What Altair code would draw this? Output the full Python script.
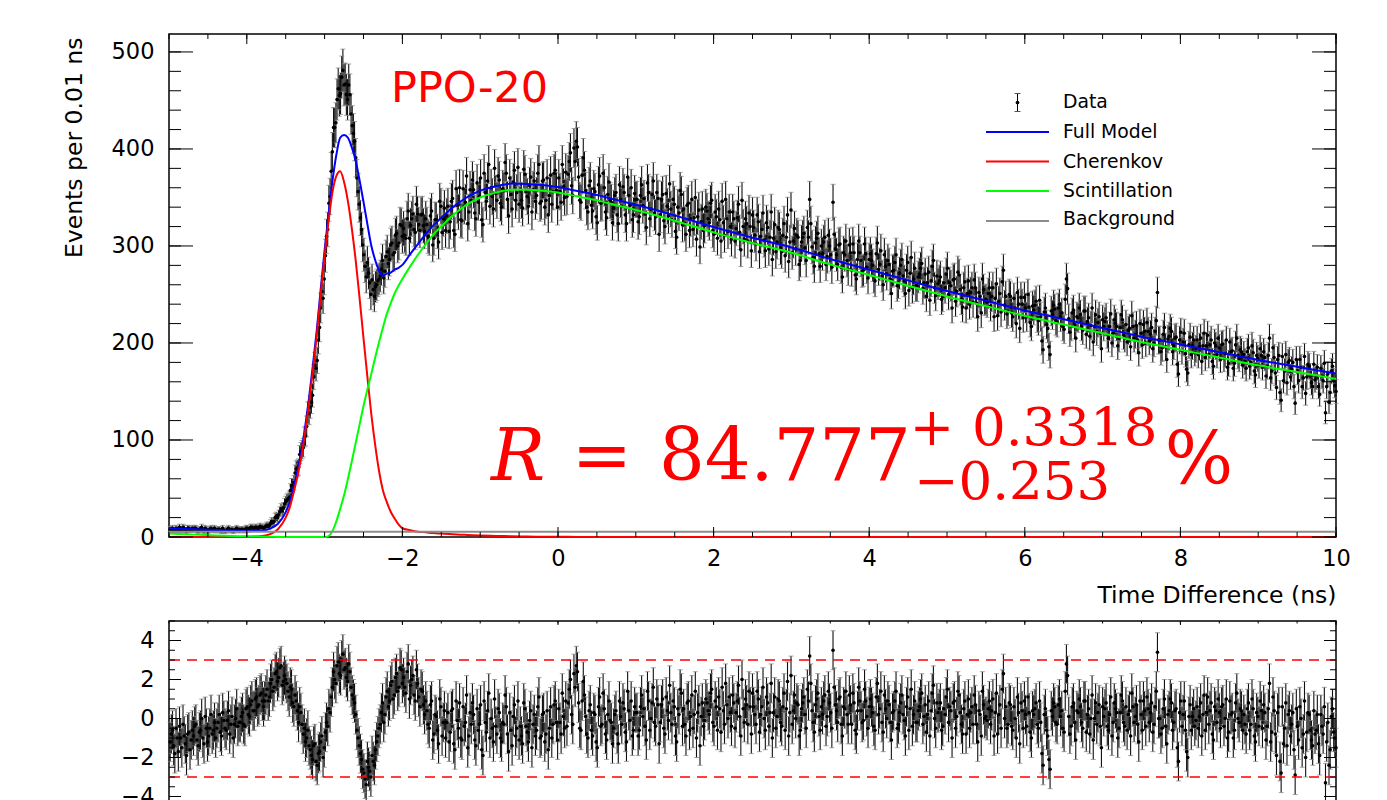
import altair as alt
import pandas as pd
import numpy as np

# ---------------- data ----------------
# two interleaved sets of display bins, 0.03 ns apart each, offset by 0.015 ns
BIN_START = -5.0      # ns
BIN_WIDTH = 0.03      # ns

counts_a = [
    8, 9, 7, 8, 10, 7, 9, 6, 9, 8,
    8, 9, 6, 8, 7, 9, 6, 8, 7, 9,
    7, 8, 6, 7, 7, 9, 7, 6, 8, 7,
    7, 8, 7, 9, 8, 10, 9, 10, 9, 10,
    9, 11, 11, 14, 15, 20, 20, 26, 27, 34,
    38, 41, 53, 56, 70, 72, 88, 92, 104, 128,
    134, 146, 177, 182, 216, 253, 266, 310, 344, 377,
    422, 427, 462, 457, 481, 467, 451, 456, 424, 408,
    370, 343, 317, 291, 268, 272, 250, 255, 258, 264,
    269, 285, 274, 294, 286, 303, 293, 313, 303, 321,
    318, 308, 336, 321, 333, 314, 333, 316, 333, 315,
    322, 308, 336, 308, 327, 304, 341, 328, 316, 341,
    325, 349, 312, 342, 360, 326, 341, 372, 335, 347,
    358, 328, 345, 370, 322, 355, 367, 341, 351, 380,
    347, 368, 340, 357, 375, 331, 353, 366, 347, 381,
    357, 339, 374, 351, 362, 335, 367, 352, 384, 346,
    368, 347, 332, 373, 356, 378, 340, 356, 384, 350,
    351, 387, 362, 401, 408, 371, 345, 391, 357, 335,
    367, 336, 356, 324, 372, 345, 360, 329, 366, 345,
    339, 355, 323, 348, 361, 332, 371, 342, 327, 354,
    348, 330, 363, 349, 319, 355, 338, 367, 330, 349,
    332, 353, 320, 341, 364, 327, 343, 309, 334, 353,
    338, 312, 344, 328, 317, 350, 330, 299, 338, 321,
    336, 324, 347, 312, 330, 338, 305, 324, 348, 315,
    320, 335, 305, 329, 314, 347, 307, 323, 334, 295,
    319, 302, 325, 310, 334, 295, 319, 309, 286, 322,
    304, 317, 294, 323, 309, 284, 337, 305, 297, 309,
    285, 309, 298, 319, 348, 299, 279, 308, 292, 300,
    304, 281, 311, 291, 345, 297, 281, 302, 268, 291,
    285, 301, 275, 293, 266, 305, 285, 275, 292, 267,
    292, 280, 264, 303, 281, 269, 291, 271, 281, 251,
    275, 291, 262, 280, 269, 251, 283, 272, 257, 277,
    259, 271, 282, 262, 248, 273, 264, 285, 249, 261,
    268, 248, 257, 277, 262, 236, 266, 253, 270, 245,
    257, 236, 264, 252, 242, 257, 227, 248, 266, 244,
    242, 257, 248, 227, 261, 243, 232, 275, 248, 233,
    248, 227, 236, 252, 215, 240, 247, 227, 237, 217,
    234, 243, 223, 227, 193, 236, 215, 188, 229, 235,
    221, 240, 231, 214, 266, 225, 217, 234, 205, 226,
    229, 213, 233, 222, 207, 236, 217, 212, 227, 194,
    217, 226, 205, 230, 210, 220, 197, 216, 224, 205,
    201, 215, 228, 205, 218, 190, 210, 219, 200, 212,
    209, 194, 212, 252, 203, 195, 216, 183, 207, 212,
    197, 206, 168, 211, 201, 189, 169, 206, 197, 190,
    203, 196, 181, 210, 197, 188, 203, 176, 197, 205,
    183, 199, 189, 175, 201, 192, 179, 205, 184, 191,
    188, 174, 195, 180, 190, 167, 184, 194, 175, 185,
    176, 205, 171, 185, 154, 187, 141, 161, 188, 180,
    165, 180, 138, 170, 183, 155, 186, 165, 176, 159,
    178, 165, 155, 174, 161, 128, 168, 149, 176, 156,
]

counts_b = [
    8, 7, 9, 7, 8, 10, 7, 9, 7, 9,
    9, 7, 8, 10, 6, 8, 7, 9, 8, 7,
    8, 7, 9, 6, 8, 7, 8, 7, 9, 8,
    8, 7, 9, 8, 10, 9, 10, 9, 11, 10,
    10, 12, 12, 16, 16, 21, 23, 29, 30, 36,
    39, 48, 53, 66, 71, 85, 90, 103, 114, 127,
    139, 165, 174, 203, 236, 246, 290, 317, 351, 397,
    422, 451, 455, 474, 466, 456, 466, 436, 416, 391,
    356, 329, 301, 279, 283, 262, 265, 248, 260, 266,
    276, 267, 289, 282, 301, 291, 311, 300, 322, 310,
    311, 328, 308, 328, 317, 343, 322, 332, 321, 328,
    310, 331, 301, 327, 315, 346, 314, 339, 331, 315,
    346, 316, 359, 335, 327, 359, 345, 323, 358, 368,
    334, 365, 351, 327, 375, 346, 384, 360, 338, 354,
    372, 344, 359, 386, 348, 370, 338, 378, 355, 343,
    347, 379, 356, 341, 371, 358, 346, 375, 344, 367,
    340, 370, 352, 343, 375, 357, 370, 345, 361, 376,
    374, 396, 352, 387, 402, 347, 373, 378, 340, 362,
    342, 359, 330, 363, 344, 375, 335, 353, 347, 324,
    352, 332, 363, 341, 355, 323, 352, 360, 332, 348,
    325, 352, 342, 333, 365, 328, 353, 334, 355, 312,
    348, 326, 354, 331, 338, 348, 315, 340, 357, 322,
    323, 342, 316, 348, 329, 307, 337, 325, 316, 340,
    328, 344, 316, 335, 308, 327, 346, 311, 328, 335,
    307, 328, 318, 343, 296, 320, 328, 305, 320, 332,
    311, 332, 294, 317, 306, 324, 297, 335, 308, 294,
    319, 298, 311, 290, 332, 304, 293, 318, 311, 281,
    304, 313, 285, 309, 323, 288, 303, 313, 279, 292,
    309, 289, 300, 278, 312, 291, 301, 278, 293, 305,
    276, 293, 302, 270, 286, 293, 274, 302, 278, 286,
    285, 268, 292, 276, 295, 260, 279, 285, 266, 274,
    283, 259, 272, 286, 264, 275, 254, 288, 266, 259,
    268, 277, 256, 271, 262, 244, 279, 257, 269, 264,
    245, 262, 271, 250, 259, 265, 243, 273, 255, 237,
    263, 251, 240, 257, 265, 241, 252, 231, 255, 245,
    251, 238, 257, 246, 228, 251, 263, 239, 230, 250,
    231, 246, 220, 240, 247, 226, 236, 250, 221, 238,
    239, 226, 244, 202, 232, 219, 196, 233, 239, 223,
    236, 227, 217, 245, 256, 211, 231, 219, 227, 236,
    217, 233, 209, 226, 218, 201, 229, 221, 210, 224,
    222, 209, 217, 200, 224, 217, 205, 229, 208, 219,
    213, 196, 217, 209, 203, 220, 198, 212, 221, 202,
    216, 200, 223, 203, 191, 209, 196, 204, 215, 191,
    205, 178, 203, 192, 210, 173, 198, 188, 203, 194,
    188, 205, 197, 185, 208, 198, 181, 200, 188, 195,
    198, 184, 203, 179, 191, 174, 198, 187, 193, 177,
    181, 191, 176, 197, 171, 187, 177, 187, 191, 166,
    187, 164, 195, 169, 183, 149, 186, 171, 159, 182,
    173, 155, 183, 161, 175, 164, 148, 178, 166, 155,
    162, 175, 147, 166, 179, 155, 139, 171, 161, 150,
]

residuals_a = [
    -1.2, -0.6, -1.8, -1.0, -0.4, -1.5, -0.9, -1.9, -0.7, -1.1,
    -0.9, -0.3, -1.4, -0.6, -1.0, 0.1, -1.2, -0.5, -0.8, -0.2,
    -0.5, 0.2, -0.9, -0.1, -0.6, 0.4, -0.3, -1.0, 0.0, -0.4,
    -0.2, 0.3, -0.4, 0.6, 0.1, 0.9, 0.4, 1.1, 0.7, 1.3,
    0.6, 1.2, 0.9, 1.8, 1.4, 2.3, 1.9, 2.6, 1.7, 2.2,
    1.8, 1.1, 1.5, 0.6, 0.9, -0.2, 0.3, -0.8, -1.2, -0.6,
    -1.6, -2.1, -1.3, -2.4, -1.7, -0.9, -1.5, -0.2, 0.5, 1.1,
    2.4, 1.8, 2.9, 2.2, 3.3, 2.6, 1.9, 2.4, 1.2, 0.8,
    -0.6, -1.4, -2.1, -2.8, -3.4, -2.5, -3.0, -2.2, -1.6, -0.9,
    -0.3, 0.8, 0.2, 1.4, 0.9, 1.9, 1.2, 2.3, 1.6, 2.5,
    2.1, 1.3, 2.8, 1.7, 2.2, 0.9, 1.8, 0.6, 1.4, 0.2,
    0.4, -0.5, 0.9, -0.8, 0.1, -1.3, 0.6, -0.2, -1.0, 0.3,
    -0.7, 0.5, -1.6, -0.1, 0.8, -1.1, -0.4, 1.2, -0.9, -0.3,
    0.2, -1.4, -0.6, 0.7, -1.9, -0.2, 0.4, -1.0, -0.5, 1.0,
    -0.8, 0.3, -1.2, -0.3, 0.6, -1.7, -0.6, 0.1, -0.9, 0.9,
    -0.4, -1.3, 0.5, -0.7, -0.1, -1.5, 0.2, -0.6, 1.1, -0.9,
    0.3, -0.8, -1.6, 0.6, -0.3, 0.9, -1.1, -0.2, 1.3, -0.5,
    -0.4, 1.5, 0.2, 2.3, 2.7, 0.8, -0.6, 1.9, 0.1, -1.0,
    0.7, -0.9, 0.2, -1.5, 1.1, -0.3, 0.5, -1.1, 0.9, -0.2,
    -0.5, 0.4, -1.3, 0.1, 0.8, -0.7, 1.4, -0.1, -0.9, 0.6,
    0.3, -0.6, 1.2, 0.5, -1.1, 0.9, 0.0, 1.6, -0.4, 0.7,
    -0.2, 1.0, -0.8, 0.4, 1.7, -0.3, 0.6, -1.2, 0.2, 1.3,
    0.5, -0.9, 0.9, 0.1, -0.5, 1.4, 0.3, -1.4, 0.8, -0.1,
    0.8, 0.2, 1.5, -0.4, 0.6, 1.1, -0.7, 0.4, 1.8, 0.0,
    0.3, 1.2, -0.5, 0.9, 0.1, 2.0, -0.2, 0.7, 1.4, -0.8,
    0.6, -0.3, 1.0, 0.2, 1.6, -0.6, 0.8, 0.3, -1.0, 1.1,
    0.1, 0.9, -0.4, 1.3, 0.5, -0.9, 2.2, 0.4, 0.0, 0.7,
    -0.6, 0.8, 0.2, 1.5, 3.2, 0.4, -0.7, 1.0, 0.1, 0.6,
    0.9, -0.4, 1.4, 0.3, 3.5, 0.7, -0.2, 1.1, -0.9, 0.5,
    0.2, 1.2, -0.3, 0.8, -0.8, 1.6, 0.4, -0.1, 0.9, -0.5,
    1.0, 0.3, -0.6, 1.8, 0.5, -0.2, 1.2, 0.0, 0.7, -1.1,
    0.4, 1.4, -0.3, 0.8, 0.2, -0.9, 1.1, 0.5, -0.4, 0.9,
    -0.2, 0.6, 1.3, 0.1, -0.7, 0.9, 0.4, 1.7, -0.5, 0.3,
    0.8, -0.4, 0.2, 1.5, 0.6, -1.0, 0.9, 0.1, 1.2, -0.3,
    0.5, -0.8, 1.0, 0.3, -0.3, 0.7, -1.2, 0.2, 1.4, 0.0,
    -0.1, 0.9, 0.4, -0.9, 1.3, 0.2, -0.5, 2.3, 0.6, -0.3,
    0.7, -0.6, 0.0, 1.1, -1.3, 0.4, 0.9, -0.4, 0.3, -1.0,
    0.2, 0.8, -0.5, -0.2, -2.4, 0.5, -0.9, -2.6, 0.1, 0.6,
    -0.3, 1.0, 0.4, -0.7, 2.8, 0.1, -0.4, 0.8, -1.1, 0.3,
    0.6, -0.5, 0.9, 0.2, -0.8, 1.2, 0.0, -0.3, 0.7, -1.5,
    0.1, 0.8, -0.6, 1.1, -0.2, 0.5, -1.0, 0.3, 0.9, -0.4,
    -0.6, 0.4, 1.3, -0.2, 0.7, -1.2, 0.2, 0.9, -0.4, 0.5,
    0.3, -0.7, 0.6, 3.4, 0.0, -0.5, 1.0, -1.3, 0.4, 0.8,
    -0.2, 0.5, -2.2, 0.9, 0.2, -0.6, -2.0, 0.7, 0.1, -0.4,
    0.6, 0.1, -0.9, 1.2, 0.3, -0.3, 0.8, -1.1, 0.4, 1.0,
    -0.5, 0.7, 0.0, -1.0, 0.9, 0.3, -0.6, 1.3, -0.2, 0.4,
    0.2, -0.8, 0.8, -0.3, 0.5, -1.2, 0.1, 0.9, -0.5, 0.3,
    -0.4, 1.8, -0.7, 0.4, -1.9, 0.6, -2.8, -1.3, 0.8, 0.2,
    -0.9, 0.3, -2.9, -0.4, 0.6, -1.5, 0.9, -0.7, 0.2, -1.1,
    0.4, -0.6, -1.3, 0.2, -0.8, -3.3, -0.2, -1.6, 0.5, -1.0,
]

residuals_b = [
    -0.8, -1.4, -0.5, -1.7, -1.0, -0.3, -1.3, -0.8, -1.6, -0.6,
    -0.4, -1.1, -0.7, 0.0, -1.3, -0.5, -0.9, 0.2, -0.6, -1.0,
    -0.2, -0.7, 0.3, -0.5, -0.1, -0.8, 0.1, -0.3, 0.5, -0.2,
    0.1, -0.3, 0.5, 0.2, 0.7, 0.4, 1.0, 0.6, 1.2, 0.9,
    0.9, 1.5, 1.1, 2.0, 1.6, 2.4, 2.1, 2.7, 1.9, 2.0,
    1.4, 1.6, 0.8, 1.2, 0.4, 0.6, -0.3, -0.5, -1.0, -1.4,
    -1.9, -1.4, -2.2, -1.8, -1.2, -2.0, -0.7, -0.4, 0.3, 1.6,
    2.0, 2.7, 2.3, 3.0, 2.5, 2.1, 2.8, 1.6, 1.0, 0.2,
    -1.0, -1.8, -2.6, -3.1, -2.2, -2.7, -1.9, -2.4, -1.2, -0.5,
    0.3, -0.2, 1.1, 0.6, 1.7, 1.0, 2.1, 1.4, 2.6, 1.8,
    1.6, 2.4, 1.0, 2.0, 1.2, 2.5, 1.1, 1.5, 0.7, 0.9,
    -0.3, 0.7, -1.1, 0.2, -0.6, 1.0, -0.9, 0.4, -0.2, -1.2,
    0.4, -1.3, 0.9, -0.5, -1.0, 0.6, -0.2, -1.5, 0.3, 0.8,
    -1.1, 0.5, -0.3, -1.6, 0.9, -0.7, 1.3, 0.0, -1.2, -0.4,
    0.5, -1.0, -0.2, 1.2, -0.8, 0.3, -1.4, 0.7, -0.5, -1.1,
    -0.9, 0.8, -0.4, -1.2, 0.4, -0.3, -0.9, 0.6, -1.0, 0.2,
    -1.2, 0.4, -0.5, -1.0, 0.7, -0.2, 0.5, -0.8, 0.1, 0.9,
    0.8, 2.0, -0.3, 1.6, 2.4, -0.5, 0.9, 1.2, -0.8, 0.4,
    -0.6, 0.3, -1.2, 0.6, -0.4, 1.3, -0.8, 0.2, -0.1, -1.3,
    0.2, -0.8, 0.9, -0.3, 0.5, -1.2, 0.4, 0.9, -0.6, 0.3,
    -0.9, 0.6, 0.1, -0.4, 1.4, -0.6, 0.8, -0.2, 1.0, -1.3,
    0.7, -0.5, 1.1, -0.1, 0.3, 0.9, -0.9, 0.5, 1.5, -0.4,
    -0.3, 0.8, -0.6, 1.2, 0.2, -1.0, 0.7, 0.1, -0.4, 1.0,
    0.4, 1.3, -0.2, 0.9, -0.6, 0.5, 1.6, -0.3, 0.7, 1.1,
    -0.4, 0.8, 0.3, 1.7, -0.9, 0.5, 1.0, -0.3, 0.6, 1.3,
    0.2, 1.4, -0.7, 0.6, 0.0, 1.1, -0.4, 1.8, 0.3, -0.5,
    1.0, -0.2, 0.6, -0.6, 1.9, 0.3, -0.3, 1.2, 0.8, -0.9,
    0.5, 1.1, -0.5, 0.9, 1.8, -0.2, 0.7, 1.3, -0.6, 0.2,
    1.2, 0.1, 0.8, -0.5, 1.6, 0.4, 1.0, -0.3, 0.6, 1.4,
    -0.3, 0.7, 1.3, -0.6, 0.4, 0.9, -0.2, 1.5, 0.1, 0.6,
    0.6, -0.4, 1.1, 0.2, 1.4, -0.7, 0.5, 0.9, -0.2, 0.3,
    0.9, -0.5, 0.3, 1.2, -0.1, 0.6, -0.6, 1.5, 0.2, -0.2,
    0.4, 1.0, -0.3, 0.7, 0.2, -0.9, 1.3, 0.0, 0.8, 0.5,
    -0.6, 0.5, 1.1, -0.2, 0.4, 0.8, -0.5, 1.4, 0.3, -0.8,
    0.9, 0.2, -0.5, 0.6, 1.2, -0.3, 0.4, -0.9, 0.7, 0.1,
    0.5, -0.3, 1.0, 0.3, -0.8, 0.7, 1.5, 0.0, -0.5, 0.8,
    -0.4, 0.6, -1.0, 0.3, 0.8, -0.5, 0.2, 1.1, -0.7, 0.4,
    0.5, -0.3, 0.9, -1.8, 0.2, -0.6, -2.1, 0.4, 0.8, -0.2,
    0.7, 0.1, -0.5, 1.4, 2.2, -0.8, 0.6, -0.2, 0.4, 1.0,
    -0.2, 0.9, -0.7, 0.5, 0.0, -1.1, 0.8, 0.3, -0.4, 0.6,
    0.5, -0.4, 0.2, -0.9, 0.8, 0.3, -0.5, 1.2, -0.2, 0.6,
    0.2, -0.9, 0.6, 0.1, -0.3, 0.9, -0.6, 0.4, 1.1, -0.2,
    0.8, -0.3, 1.4, 0.0, -0.8, 0.5, -0.4, 0.2, 1.0, -0.6,
    0.4, -1.5, 0.3, -0.4, 0.9, -1.7, 0.1, -0.6, 0.5, -0.1,
    -0.5, 0.8, 0.2, -0.6, 1.1, 0.4, -0.8, 0.6, -0.2, 0.3,
    0.6, -0.4, 1.0, -0.7, 0.2, -1.0, 0.8, 0.0, 0.5, -0.6,
    -0.3, 0.5, -0.6, 1.0, -0.9, 0.3, -0.4, 0.4, 0.7, -1.1,
    0.5, -1.2, 1.1, -0.8, 0.3, -2.2, 0.6, -0.5, -1.4, 0.4,
    -0.3, -1.6, 0.5, -1.1, 0.0, -0.8, -2.0, 0.3, -0.6, -1.4,
    -0.8, 0.2, -1.9, -0.4, 0.6, -1.2, -2.4, 0.1, -0.7, -1.5,
]

model_t = [
    -5.0, -4.8, -4.6, -4.4, -4.2, -4.0, -3.9, -3.8, -3.7, -3.6,
    -3.5, -3.45, -3.4, -3.35, -3.3, -3.25, -3.2, -3.15, -3.1, -3.05,
    -3.0, -2.95, -2.9, -2.85, -2.8, -2.75, -2.7, -2.65, -2.6, -2.55,
    -2.5, -2.45, -2.4, -2.35, -2.3, -2.25, -2.2, -2.15, -2.1, -2.05,
    -2.0, -1.9, -1.8, -1.7, -1.6, -1.5, -1.4, -1.3, -1.2, -1.1,
    -1.0, -0.8, -0.6, -0.4, -0.2, 0.0, 0.25, 0.5, 0.75, 1.0,
    1.5, 2.0, 2.5, 3.0, 3.5, 4.0, 4.5, 5.0, 5.5, 6.0,
    6.5, 7.0, 7.5, 8.0, 8.5, 9.0, 9.5, 10.0,
]
full_model = [
    9.0, 8.3, 7.7, 7.1, 6.6, 6.4, 6.5, 6.8, 8.7, 13.6,
    25.6, 35.5, 50.5, 67.5, 87.5, 113.5, 143.5, 177.5, 213.5, 255.5,
    295.5, 331.5, 366.5, 393.5, 411.5, 414.5, 411.5, 401.5, 387.5, 367.5,
    345.5, 322.5, 300.5, 285.5, 274.5, 269.5, 271.5, 272.5, 275.5, 277.5,
    280.5, 291.5, 302.0, 312.3, 321.5, 329.0, 336.5, 343.1, 348.7, 353.3,
    357.0, 361.6, 364.3, 364.0, 362.8, 360.7, 356.6, 352.5, 347.5, 342.5,
    331.5, 319.5, 308.5, 298.5, 286.5, 275.5, 264.5, 253.5, 243.5, 233.5,
    224.5, 215.5, 206.5, 198.5, 190.5, 182.5, 175.5, 168.5,
]
cherenkov = [
    0, 0, 0, 0, 0, 0.2, 0.5, 1, 3, 8,
    20, 30, 45, 62, 82, 108, 138, 172, 208, 250,
    290, 325, 355, 372, 377, 366, 346, 318, 285, 246,
    205, 165, 127, 95, 68, 48, 36, 26, 19, 13,
    9, 7, 5.5, 4.8, 4, 3.5, 3, 2.6, 2.2, 1.8,
    1.5, 1.1, 0.8, 0.5, 0.3, 0.2, 0.1, 0, 0, 0,
    0, 0, 0, 0, 0, 0, 0, 0, 0, 0,
    0, 0, 0, 0, 0, 0, 0, 0,
]
scintillation = [
    3.5, 2.8, 2.2, 1.6, 1.1, 0.7, 0.5, 0.3, 0.2, 0.1,
    0.05, 0.03, 0, 0, 0, 0, 0, 0, 0, 0,
    0, 1, 6, 16, 29, 43, 60, 78, 97, 116,
    135, 152, 168, 185, 201, 216, 230, 241, 251, 259,
    266, 279, 291, 302, 312, 320, 328, 335, 341, 346,
    350, 355, 358, 358, 357, 355, 351, 347, 342, 337,
    326, 314, 303, 293, 281, 270, 259, 248, 238, 228,
    219, 210, 201, 193, 185, 177, 170, 163,
]
background_level = [5.5]
residual_bands = [3, -3]

x_major = [-4, -2, 0, 2, 4, 6, 8, 10]
x_minor = [v / 2 for v in range(-10, 21)]
top_y_major = [0, 100, 200, 300, 400, 500]
top_y_minor = list(range(0, 520, 20))
bot_y_major = [-4, -2, 0, 2, 4]
bot_y_minor = [v / 2 for v in range(-10, 11)]

legend_labels = ["Data", "Full Model", "Cherenkov", "Scintillation", "Background"]
legend_colors = ["black", "#0000ff", "#ff0000", "#00ff00", "#8c8c8c"]


# ---------------- tables ----------------
def binned(vals_a, vals_b):
    ta = BIN_START + BIN_WIDTH * (np.arange(len(vals_a)) + 0.5)
    tb = BIN_START + BIN_WIDTH * (np.arange(len(vals_b)) + 1.0)
    return pd.DataFrame({"t": np.concatenate([ta, tb]),
                         "y": list(vals_a) + list(vals_b)})


data_df = binned(counts_a, counts_b)
res_df = binned(residuals_a, residuals_b)

W = 1167
H_TOP = 503
H_BOT = 195
SANS = "DejaVu Sans"

xs = alt.Scale(domain=[-5, 10], nice=False, zero=False)
ys_top = alt.Scale(domain=[0, 518.5], nice=False, zero=False)
ys_bot = alt.Scale(domain=[-5, 5], nice=False, zero=False)

x_axis_top = alt.Axis(values=x_major, format="d", labelPadding=10,
                      title="Time Difference (ns)", titleAnchor="end",
                      titleAlign="right", titleBaseline="alphabetic",
                      titleX=W, titleY=65)
y_axis_top = alt.Axis(values=top_y_major, format="d", labelPadding=15,
                      title="Events per 0.01 ns", titleAnchor="end",
                      titleAngle=270, titleAlign="right",
                      titleBaseline="alphabetic", titleX=-88, titleY=3)
x_axis_bot = alt.Axis(values=x_major, labels=False, title=None)
y_axis_bot = alt.Axis(values=bot_y_major, format="d", labelPadding=15, title=None)

XT = alt.X("t:Q", scale=xs, axis=x_axis_top)
YT = alt.Y("y:Q", scale=ys_top, axis=y_axis_top)
XB = alt.X("t:Q", scale=xs, axis=x_axis_bot)
YB = alt.Y("y:Q", scale=ys_bot, axis=y_axis_bot)


def frame_ticks(xvals_major, xvals_minor, yvals_major, yvals_minor,
                X, Y, H, xlen, ylen):
    layers = []
    for vals, ln in ((xvals_major, xlen[0]), (xvals_minor, xlen[1])):
        d = pd.DataFrame({"t": vals})
        layers.append(alt.Chart(d).mark_rule(color="black", strokeWidth=1).encode(
            x=X, y=alt.value(H), y2=alt.value(H - ln)))
        layers.append(alt.Chart(d).mark_rule(color="black", strokeWidth=1).encode(
            x=X, y=alt.value(0), y2=alt.value(ln)))
    for vals, ln in ((yvals_major, ylen[0]), (yvals_minor, ylen[1])):
        d = pd.DataFrame({"y": vals})
        layers.append(alt.Chart(d).mark_rule(color="black", strokeWidth=1).encode(
            y=Y, x=alt.value(0), x2=alt.value(ln)))
        layers.append(alt.Chart(d).mark_rule(color="black", strokeWidth=1).encode(
            y=Y, x=alt.value(W - ln), x2=alt.value(W)))
    return layers


def points_with_errors(df, X, yscale, yaxis, err_expr):
    base = alt.Chart(df).transform_calculate(
        lo=f"datum.y - ({err_expr})", hi=f"datum.y + ({err_expr})")
    Y = alt.Y("y:Q", scale=yscale, axis=yaxis)
    Ylo = alt.Y("lo:Q", scale=yscale, axis=yaxis)
    Yhi = alt.Y("hi:Q", scale=yscale, axis=yaxis)
    bars = base.mark_rule(color="#111111", strokeWidth=1.1).encode(x=X, y=Ylo, y2="hi:Q")
    cap_lo = base.mark_tick(color="#808080", size=5, thickness=1,
                            orient="horizontal").encode(x=X, y=Ylo)
    cap_hi = base.mark_tick(color="#808080", size=5, thickness=1,
                            orient="horizontal").encode(x=X, y=Yhi)
    pts = base.mark_circle(color="black", size=13, opacity=1).encode(x=X, y=Y)
    return [bars, cap_lo, cap_hi, pts]


def curve(values, color):
    d = pd.DataFrame({"t": model_t, "y": values})
    return alt.Chart(d).mark_line(color=color, strokeWidth=2,
                                  interpolate="monotone").encode(x=XT, y=YT)


one = pd.DataFrame({"a": [0]})


def label(text, x, y, size, color="black", font=SANS, align="left",
          baseline="alphabetic", style="normal"):
    return alt.Chart(one).mark_text(text=text, font=font, fontSize=size,
                                    color=color, align=align, baseline=baseline,
                                    fontStyle=style).encode(
        x=alt.value(x), y=alt.value(y))


# ---------------- top panel ----------------
top_layers = []
top_layers += points_with_errors(data_df, XT, ys_top, y_axis_top, "sqrt(datum.y)")
top_layers.append(curve(full_model, "#0000ff"))
top_layers.append(curve(cherenkov, "#ff0000"))
top_layers.append(curve(scintillation, "#00ff00"))
top_layers.append(alt.Chart(pd.DataFrame({"y": background_level}))
                  .mark_rule(color="#8c8c8c", strokeWidth=2).encode(y=YT))
top_layers += frame_ticks(x_major, x_minor, top_y_major, top_y_minor,
                          XT, YT, H_TOP, (10, 5), (24, 12))

# legend
leg_line_y = [98, 127.5, 157, 187]
leg_text_y = [74, 103.5, 133.5, 163, 191]
top_layers.append(alt.Chart(one).mark_rule(color="black", strokeWidth=1).encode(
    x=alt.value(848.5), y=alt.value(59.5), y2=alt.value(77.5)))
for yy in (59.5, 77.5):
    top_layers.append(alt.Chart(one).mark_rule(color="#555", strokeWidth=1).encode(
        x=alt.value(845.5), x2=alt.value(851.5), y=alt.value(yy)))
top_layers.append(alt.Chart(one).mark_circle(color="black", size=14, opacity=1).encode(
    x=alt.value(848.5), y=alt.value(68.5)))
for i, (lab, col) in enumerate(zip(legend_labels, legend_colors)):
    if i > 0:
        top_layers.append(alt.Chart(one).mark_rule(color=col, strokeWidth=2.2).encode(
            x=alt.value(817), x2=alt.value(880), y=alt.value(leg_line_y[i - 1])))
    top_layers.append(label(lab, 894, leg_text_y[i], 18.8))

# annotations
RED = "#ff0000"
SERIF = "DejaVu Serif"
top_layers.append(label("PPO-20", 222, 68, 43, color=RED))
top_layers.append(label("R", 322, 446, 72, color=RED, font=SERIF, style="italic"))
top_layers.append(label("=", 433, 446, 72, color=RED, font=SERIF, align="center"))
top_layers.append(label("84.777", 490, 446, 72, color=RED, font=SERIF))
top_layers.append(label("+", 763, 411, 53, color=RED, font=SERIF, align="center"))
top_layers.append(label("0.3318", 803, 411, 53, color=RED, font=SERIF))
top_layers.append(label("\u22120.253", 745, 465, 53, color=RED, font=SERIF))
top_layers.append(label("%", 1030, 450, 72, color=RED, font=SERIF, align="center"))

top = alt.layer(*top_layers).properties(width=W, height=H_TOP)

# ---------------- residual panel ----------------
bot_layers = []
bot_layers += points_with_errors(res_df, XB, ys_bot, y_axis_bot, "1")
bot_layers.append(alt.Chart(pd.DataFrame({"y": residual_bands}))
                  .mark_rule(color="#ff0000", strokeWidth=1.5, strokeDash=[10, 7])
                  .encode(y=YB))
bot_layers += frame_ticks(x_major, x_minor, bot_y_major, bot_y_minor,
                          XB, YB, H_BOT, (4, 2.5), (12, 6))
bottom = alt.layer(*bot_layers).properties(width=W, height=H_BOT)

chart = alt.vconcat(top, bottom, spacing=84, bounds="flush").properties(
    padding={"left": 53, "top": 24, "right": 5, "bottom": 5},
).configure_view(
    stroke="black", strokeWidth=1.5
).configure_axis(
    labelFont=SANS, labelFontSize=22.5, labelColor="black",
    titleFont=SANS, titleFontSize=23.5, titleColor="black", titleFontWeight="normal",
    ticks=False, tickSize=0, domain=False, grid=False,
    labelFlush=False, labelOverlap=False,
)

chart.save("out.html", embed_options={"renderer": "svg", "actions": False})
